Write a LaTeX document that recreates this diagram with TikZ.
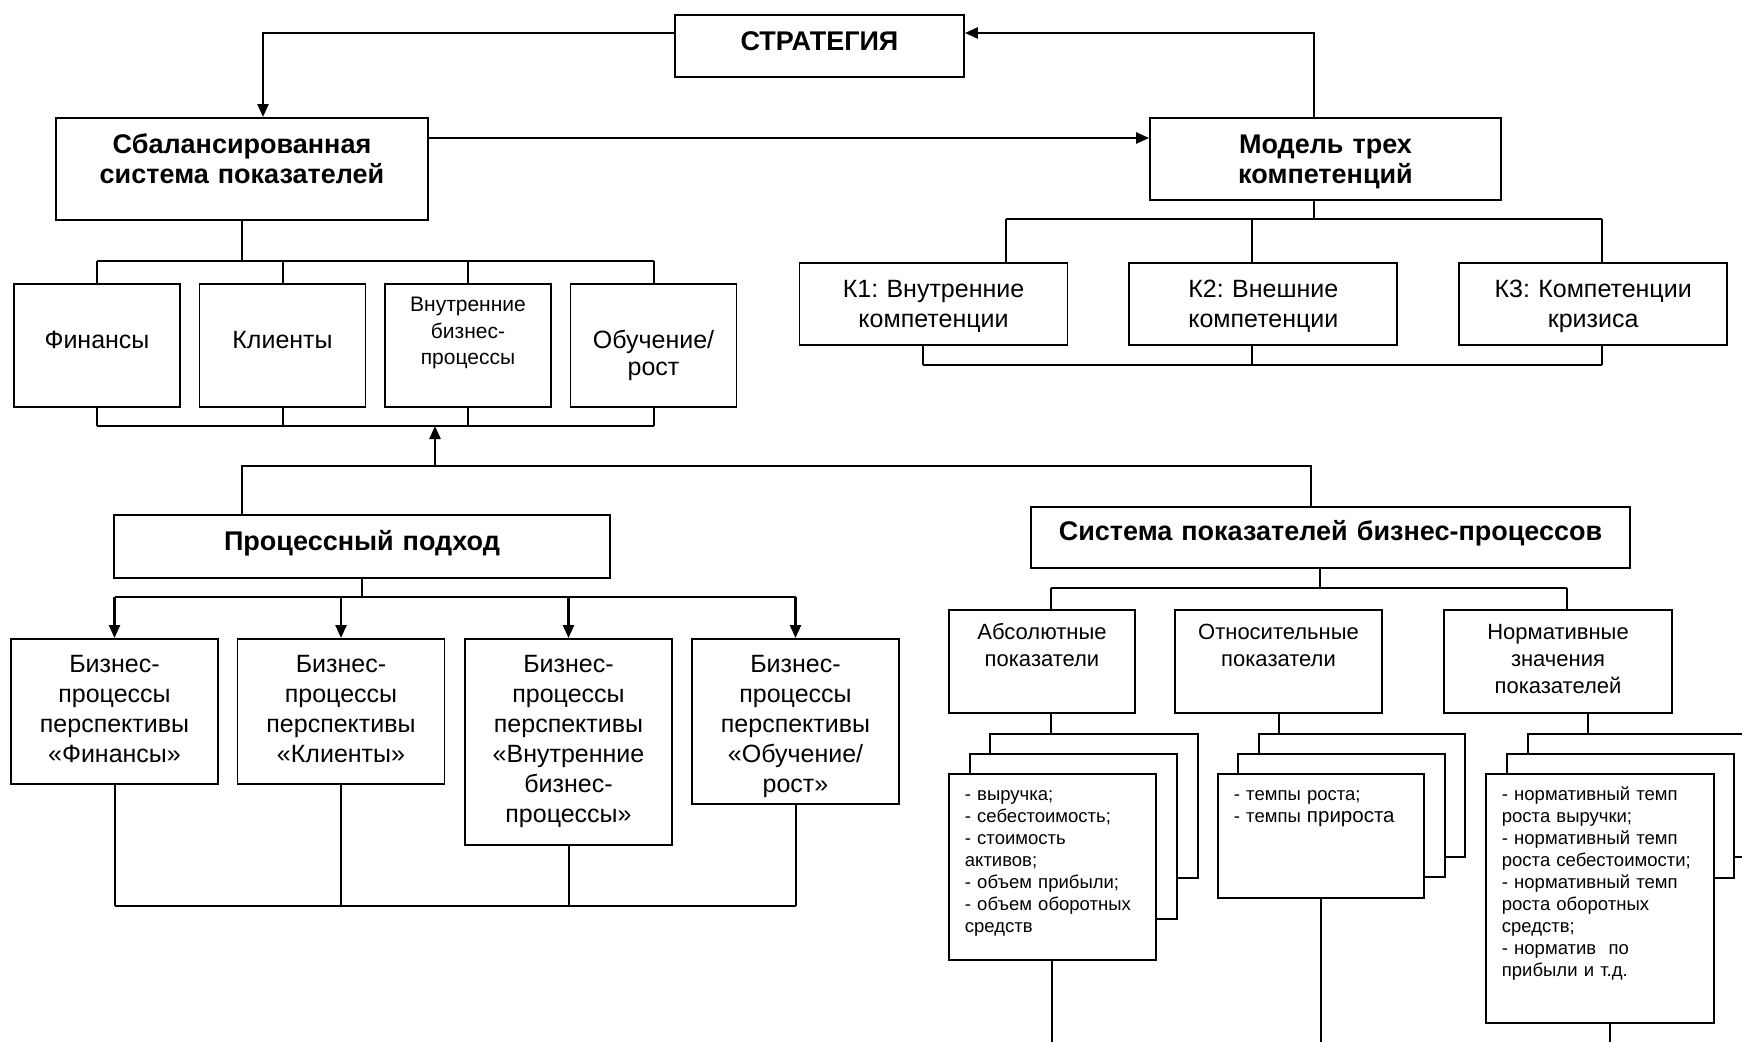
\documentclass[tikz,border=0pt]{standalone}
\usepackage{fontspec}
\setmainfont{Liberation Sans}
\usetikzlibrary{arrows.meta, positioning}
\frenchspacing

\tikzset{
  box/.style={rectangle, draw, line width=1.8pt, fill=white, inner xsep=2pt,
    inner ysep=0pt, align=center},
  sized/.style n args={3}{text width=#1, text height=#2, text depth=#3},
  headbox/.style={box, font=\fontsize{27}{30}\selectfont\bfseries},
  plainbox/.style={box, font=\fontsize{25}{30}\selectfont},
  smallbox/.style={box, font=\fontsize{22}{27}\selectfont},
  sheet/.style={rectangle, draw, line width=1.8pt, fill=white, inner sep=0pt,
    anchor=north west},
  listbox/.style={sheet, inner xsep=16pt, align=left,
    font=\fontsize{18.5}{22}\selectfont},
  line/.style={line width=2pt},
  arrow/.style={-{Triangle[length=13pt, width=11pt]}, line width=2.4pt},
}

\begin{document}
\begin{tikzpicture}[x=1pt, y=-1pt, node distance=17.7pt]
  \useasboundingbox (0,0) rectangle (1742,1041);
  \clip (0,0) rectangle (1742,1041);

  %% Top level
  \node[headbox, sized={285pt}{36pt}{26pt}, anchor=north] (strat) at (819.5,14)
    {СТРАТЕГИЯ};
  \node[headbox, sized={368pt}{36pt}{66pt}, anchor=north] (bsc) at (242,117)
    {Сбалансированная\\система показателей};
  \node[headbox, sized={347pt}{36pt}{46pt}, anchor=north] (mdl) at (1325.5,117)
    {Модель трех\\компетенций};

  \draw[arrow] ([yshift=-19pt]strat.north west) -| ([xshift=21pt]bsc.north);
  \draw[arrow] ([xshift=-11.5pt]mdl.north) |- ([yshift=-19pt]strat.north east);
  \draw[arrow] ([yshift=-21pt]bsc.north east) -- ([yshift=-21pt]mdl.north west);

  %% BSC perspectives
  \node[plainbox, sized={162pt}{65pt}{58pt}, anchor=north] (fin) at (97,283)
    {Финансы};
  \node[plainbox, sized={162pt}{65pt}{58pt}, right=of fin] (kli) {Клиенты};
  \node[box, font=\fontsize{21}{26.5}\selectfont, sized={162pt}{28pt}{95pt},
    right=of kli] (vnu) {Внутренние\\бизнес-\\процессы};
  \node[box, font=\fontsize{25}{27}\selectfont, sized={162pt}{65pt}{58pt},
    right=of vnu] (obu) {Обучение/\\рост};

  \coordinate (bsctop) at (0,261);
  \coordinate (bscbot) at (0,426);
  \draw[line] (bsc.south) -- (bsc.south |- bsctop);
  \draw[line] (fin.north |- bsctop) -- (obu.north |- bsctop);
  \draw[line] (fin.south |- bscbot) -- (obu.south |- bscbot);
  \foreach \n in {fin,kli,vnu,obu} {
    \draw[line] (\n.north |- bsctop) -- (\n.north);
    \draw[line] (\n.south) -- (\n.south |- bscbot);
  }

  %% Three competences
  \node[plainbox, sized={264pt}{35pt}{47pt}, anchor=north] (k1) at (933.5,262)
    {К1: Внутренние\\компетенции};
  \node[plainbox, sized={264pt}{35pt}{47pt}, right=60pt of k1] (k2)
    {К2: Внешние\\компетенции};
  \node[plainbox, sized={264pt}{35pt}{47pt}, right=60pt of k2] (k3)
    {К3: Компетенции\\кризиса};

  \coordinate (mdlbus) at (0,219);
  \coordinate (kbus) at (0,365);
  \draw[line] ([xshift=-11.5pt]mdl.south) -- ([xshift=-11.5pt]mdl.south |- mdlbus);
  \draw[line] ([xshift=72.5pt]k1.north |- mdlbus) -- ([xshift=9pt]k3.north |- mdlbus);
  \draw[line] ([xshift=-10.5pt]k1.south |- kbus) -- ([xshift=9pt]k3.south |- kbus);
  \foreach \n/\up/\dn in {k1/72.5/-10.5, k2/-11.5/-11.5, k3/9/9} {
    \draw[line] ([xshift=\up pt]\n.north |- mdlbus) -- ([xshift=\up pt]\n.north);
    \draw[line] ([xshift=\dn pt]\n.south) -- ([xshift=\dn pt]\n.south |- kbus);
  }

  %% Process approach and indicator system
  \node[headbox, sized={492pt}{36pt}{27pt}, anchor=north] (proc) at (362,514)
    {Процессный подход};
  \node[headbox, sized={595pt}{34pt}{27pt}, anchor=north] (sys) at (1330.5,506)
    {Система показателей бизнес-процессов};

  \coordinate (hub) at (435,466);
  \draw[line] ([xshift=-120pt]proc.north) |- (hub) -| ([xshift=-19.5pt]sys.north);
  \draw[arrow] (hub) -- (hub |- bscbot);

  %% Business processes of perspectives
  \node[plainbox, sized={203pt}{34pt}{111pt}, anchor=north] (bp1) at (114.5,638)
    {Бизнес-\\процессы\\перспективы\\«Финансы»};
  \node[plainbox, sized={203pt}{34pt}{111pt}, right=17.7pt of bp1.north east,
    anchor=north west] (bp2)
    {Бизнес-\\процессы\\перспективы\\«Клиенты»};
  \node[plainbox, sized={203pt}{34pt}{172pt}, right=18.7pt of bp2.north east,
    anchor=north west] (bp3)
    {Бизнес-\\процессы\\перспективы\\«Внутренние\\бизнес-\\процессы»};
  \node[plainbox, sized={203pt}{34pt}{131pt}, right=18.2pt of bp3.north east,
    anchor=north west] (bp4)
    {Бизнес-\\процессы\\перспективы\\«Обучение/\\рост»};

  \coordinate (procbus) at (0,597);
  \coordinate (bpbus) at (0,906);
  \draw[line] (proc.south) -- (proc.south |- procbus);
  \draw[line] (bp1.north |- procbus) -- (bp4.north |- procbus);
  \draw[line] (bp1.south |- bpbus) -- (bp4.south |- bpbus);
  \foreach \i in {1,...,4} {
    \draw[arrow] (bp\i.north |- procbus) -- (bp\i.north);
    \draw[line] (bp\i.south) -- (bp\i.south |- bpbus);
  }

  %% Indicator kinds
  \node[smallbox, sized={182pt}{30pt}{73pt}, anchor=north] (abs) at (1042,609)
    {Абсолютные\\показатели};
  \node[smallbox, sized={203pt}{30pt}{73pt}, anchor=north] (otn) at (1278.5,609)
    {Относительные\\показатели};
  \node[smallbox, sized={224pt}{30pt}{73pt}, anchor=north] (nrm) at (1558,609)
    {Нормативные\\значения\\показателей};

  \coordinate (sysbus) at (0,588);
  \draw[line] ([xshift=-10.5pt]sys.south) -- ([xshift=-10.5pt]sys.south |- sysbus);
  \draw[line] ([xshift=9pt]abs.north |- sysbus) -- ([xshift=9pt]nrm.north |- sysbus);
  \draw[line] ([xshift=9pt]abs.north |- sysbus) -- ([xshift=9pt]abs.north);
  \draw[line] ([xshift=9pt]nrm.north |- sysbus) -- ([xshift=9pt]nrm.north);

  %% Stacked sheets
  \node[sheet, minimum width=208pt, minimum height=144pt] (absB) at (989,733) {};
  \node[sheet, minimum width=207pt, minimum height=165pt] (absM) at (969,753) {};
  \node[listbox, sized={175pt}{27pt}{159pt}] (absF) at (948,773)
    {- выручка;\\- себестоимость;\\- стоимость\\активов;\\- объем прибыли;\\- объем оборотных\\средств};

  \node[sheet, minimum width=206pt, minimum height=123pt] (otnB) at (1258,733) {};
  \node[sheet, minimum width=207pt, minimum height=123pt] (otnM) at (1237,753) {};
  \node[listbox, sized={174pt}{27pt}{97pt}] (otnF) at (1217,773)
    {- темпы роста;\\- темпы {\fontsize{20.5}{22}\selectfont прироста}};

  \node[sheet, minimum width=227pt, minimum height=123pt] (nrmB) at (1527,733) {};
  \node[sheet, minimum width=227pt, minimum height=124pt] (nrmM) at (1506,753) {};
  \node[listbox, sized={196pt}{27pt}{222pt}] (nrmF) at (1485,773)
    {- нормативный темп\\роста выручки;\\- нормативный темп\\роста себестоимости;\\- нормативный темп\\роста оборотных\\средств;\\- норматив~ по\\прибыли и т.д.};

  \draw[line] ([xshift=9pt]abs.south) -- ([xshift=9pt]abs.south |- absB.north);
  \draw[line] (otn.south) -- (otn.south |- otnB.north);
  \draw[line] ([xshift=30pt]nrm.south) -- ([xshift=30pt]nrm.south |- nrmB.north);

  \coordinate (edge) at (0,1045);
  \draw[line] (absF.south) -- (absF.south |- edge);
  \draw[line] (otnF.south) -- (otnF.south |- edge);
  \draw[line] ([xshift=10pt]nrmF.south) -- ([xshift=10pt]nrmF.south |- edge);

\end{tikzpicture}
\end{document}
